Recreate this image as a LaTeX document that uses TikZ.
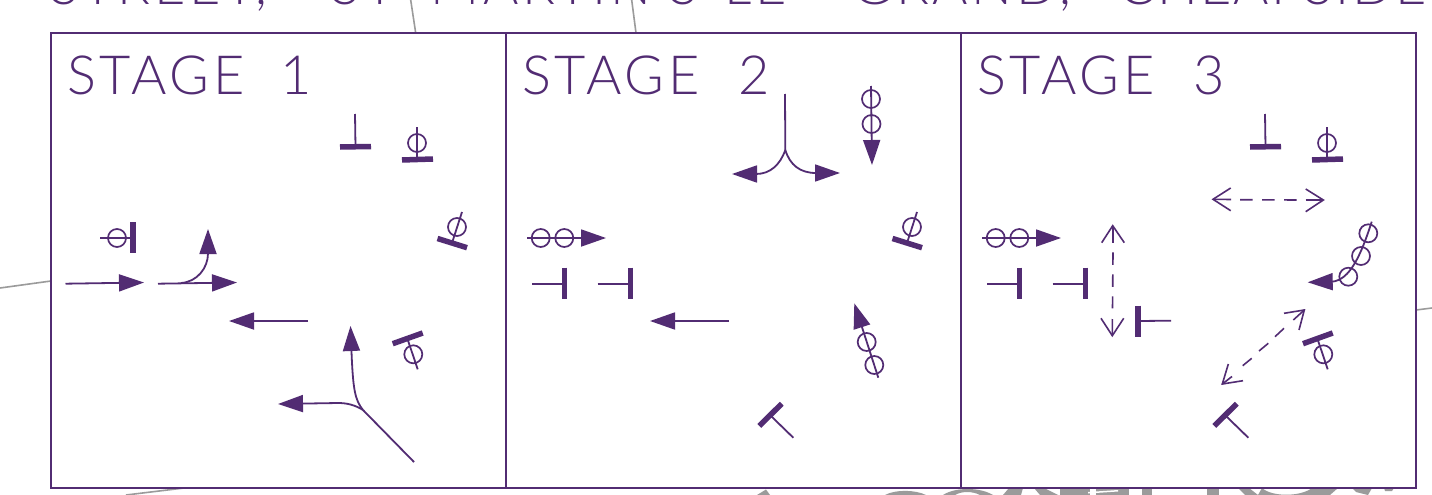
\documentclass[tikz,border=0pt]{standalone}
\usepackage{fontspec}
\setmainfont{Lato Light}
\usetikzlibrary{arrows.meta}
\definecolor{pur}{RGB}{82,44,115}
\definecolor{bggrey}{RGB}{155,155,155}
\tikzset{
  ln/.style={draw=pur,line width=1.8pt},
  bar/.style={draw=pur,line width=5.5pt},
  ring/.style={draw=pur,line width=1.7pt},
  solidtip/.style={-{Triangle[length=25pt,width=17pt,fill=pur]},draw=pur,line width=1.8pt},
  dashline/.style={draw=pur,line width=1.6pt,dash pattern=on 12.5pt off 9.5pt},
  openhead/.style={draw=pur,line width=1.6pt},
  grey/.style={draw=bggrey,line width=1.6pt},
  greyfill/.style={fill=bggrey,draw=none},
  stagelab/.style={text=pur,anchor=base west,inner sep=0pt,font=\fontsize{54}{54}\selectfont},
}
\begin{document}
\begin{tikzpicture}[x=1pt,y=-1pt]
\useasboundingbox (0,0) rectangle (1432,495);
\clip (0,0) rectangle (1432,495);
\fill[white] (0,0) rectangle (1432,495);
% background streets and lettering
\draw[grey] (0,288) -- (51,281);
\draw[grey] (126,495) -- (184,488);
\draw[grey] (410.7,0) -- (415.7,33);
\draw[grey] (631.7,0) -- (636,33);
\draw[grey] (1416,310) -- (1432,308);
\fill[greyfill] (757,495) -- (766,489.5) -- (770,495) -- cycle;
\fill[greyfill] (885,495) .. controls (895,489.5) and (915,489.5) .. (926,495) -- cycle;
\fill[greyfill] (943,495) .. controls (955,487) and (980,487) .. (993,495) -- (980,495) .. controls (972,491) and (962,491) .. (955,495) -- cycle;
\fill[greyfill] (1003,495) -- (1009,488) -- (1023,488) -- (1021,495) -- cycle;
\fill[greyfill] (1034,488) -- (1044,488) -- (1058,495) -- (1040,495) -- cycle;
\fill[greyfill] (1060,488) rectangle (1090,495);
\fill[greyfill] (1096,488) rectangle (1129,495);
\fill[white] (1088,492) -- (1118,490) -- (1118,491.5) -- (1088,493.5) -- cycle;
\fill[greyfill] (1142,488) rectangle (1152,495);
\fill[greyfill] (1207,488) rectangle (1219,495);
\fill[greyfill] (1238,488) -- (1249,488) -- (1258,495) -- (1245,495) -- cycle;
\fill[greyfill] (1262,488) .. controls (1272,497) and (1300,497) .. (1312,488) -- (1338,488) -- (1330,495) -- (1258,495) -- cycle;
\fill[greyfill] (1352,488) -- (1372,488) -- (1368,495) -- (1356,492) -- cycle;
\fill[greyfill] (1384,488) -- (1394,488) -- (1392,491) -- (1385,491) -- cycle;
% frame
\fill[white] (51,33) rectangle (1416,488);
\draw[ln] (51,33) rectangle (1416,488);
\draw[ln] (506,33) -- (506,488);
\draw[ln] (961,33) -- (961,488);
% heading
\node[stagelab] (head) at (50,4.5) {\addfontfeatures{LetterSpace=7}STREET,\hspace{46pt} ST\hspace{16pt} MARTIN'S\hspace{8pt} LE\hspace{47pt} GRAND,\hspace{29pt} {\addfontfeatures{LetterSpace=4}CHEAPSIDE}};
\node[stagelab] (s1) at (67,95) {\addfontfeatures{LetterSpace=7}STAGE\hspace{18pt} 1};
\node[stagelab] (s2) at (522,95) {\addfontfeatures{LetterSpace=7}STAGE\hspace{21pt} 2};
\node[stagelab] (s3) at (977,95) {\addfontfeatures{LetterSpace=7}STAGE\hspace{21pt} 3};
% ---- Stage 1
\draw[bar] (340,147) -- (371,146.5); \draw[ln] (355,114) -- (355.5,147);
\draw[bar] (402,160) -- (433,159); \draw[ln] (417,127) -- (417,159); \draw[ring] (417,143) circle (9pt);
\draw[bar] (437.5,238.5) -- (467,247.7); \draw[ln] (452,243) -- (462,212); \draw[ring] (457,227) circle (9pt);
\draw[bar] (133,222) -- (133,253); \draw[ln] (100,238) -- (133,238); \draw[ring] (117,238) circle (9pt);
\draw[solidtip] (65.5,283.7) -- (144,282.5);
\draw[solidtip] (158,283.7) -- (237,282.5);
\draw[solidtip] (181,283) .. controls (197,282) and (208,268) .. (208,229);
\draw[solidtip] (308,321) -- (229,321);
\draw[ln] (414,462) -- (363,410);
\draw[solidtip] (363,410) .. controls (355,400) and (353,390) .. (350.5,326);
\draw[solidtip] (363,410) .. controls (355,405) and (347,403) .. (338,403) -- (278,404);
\draw[bar] (392.7,343.7) -- (422.7,333); \draw[ln] (407.5,339) -- (417.7,369.3); \draw[ring] (413.3,354.3) circle (9pt);
% ---- Stage 2
\draw[ln] (785,94) -- (785.3,150);
\draw[solidtip] (785.3,150) .. controls (780,165) and (770,174) .. (756,174) -- (732,174);
\draw[solidtip] (785.3,150) .. controls (790,165) and (800,173) .. (816,173) -- (840,173);
\draw[solidtip] (871,86) -- (872,165); \draw[ring] (871,99) circle (9pt); \draw[ring] (871.5,124) circle (9pt);
\draw[bar] (892.5,238.5) -- (922,247.7); \draw[ln] (907,243) -- (917,212); \draw[ring] (912,227) circle (9pt);
\draw[solidtip] (527,238) -- (606,238); \draw[ring] (540.7,238) circle (9pt); \draw[ring] (564.3,238) circle (9pt);
\draw[bar] (564.7,267.7) -- (564.7,298.7); \draw[ln] (532,283.7) -- (564.7,283.7);
\draw[bar] (630.7,267.7) -- (630.7,298.7); \draw[ln] (597.5,283.7) -- (630.7,283.7);
\draw[solidtip] (729,321) -- (650,321);
\draw[solidtip] (878.3,377.7) -- (854.3,303.3); \draw[ring] (866.7,342) circle (9pt); \draw[ring] (874.3,365) circle (9pt);
\draw[bar] (759.3,426) -- (781.7,403.7); \draw[ln] (771.7,416.7) -- (793.3,437.7);
% ---- Stage 3
\draw[bar] (1250,147) -- (1281,146.5); \draw[ln] (1265,114) -- (1265.5,147);
\draw[bar] (1312,160) -- (1343,159); \draw[ln] (1327,127) -- (1327,159); \draw[ring] (1327,143) circle (9pt);
\draw[dashline] (1240,199.7) -- (1297,200);
\draw[openhead] (1230.7,188) -- (1213,199.3) -- (1230.7,210.7);
\draw[openhead] (1213,199.3) -- (1231,199.5);
\draw[openhead] (1305.7,189) -- (1323.3,200) -- (1305.7,211.7);
\draw[openhead] (1305.7,200) -- (1323.3,200);
\draw[solidtip] (982,238) -- (1061,238); \draw[ring] (995.7,238) circle (9pt); \draw[ring] (1019.3,238) circle (9pt);
\draw[bar] (1019.7,267.7) -- (1019.7,298.7); \draw[ln] (987,283.7) -- (1019.7,283.7);
\draw[bar] (1085.7,267.7) -- (1085.7,298.7); \draw[ln] (1052.5,283.7) -- (1085.7,283.7);
\draw[dashline] (1113,252.3) -- (1112.5,308.3);
\draw[openhead] (1101.7,242.7) -- (1112.7,225.7) -- (1124.3,242.7);
\draw[openhead] (1113,225.7) -- (1113,242.7);
\draw[openhead] (1101,318.3) -- (1112.3,335.7) -- (1123.7,318.3);
\draw[openhead] (1112.4,319) -- (1112.3,335.7);
\draw[bar] (1138,305.7) -- (1138,336.7); \draw[ln] (1138,321) -- (1171,320.7);
\draw[solidtip] (1371.7,221.7) .. controls (1361,255) and (1350,280) .. (1332,281.7) -- (1307.7,282.3);
\draw[ring] (1368.3,233.3) circle (9pt); \draw[ring] (1361,256) circle (9pt); \draw[ring] (1348.3,276.7) circle (9pt);
\draw[openhead] (1284,313.3) -- (1304.3,310) -- (1299,330);
\draw[openhead] (1304.3,310) -- (1293.3,320);
\draw[openhead] (1284,328.3) -- (1275,336.7);
\draw[openhead] (1268.3,343.3) -- (1259,351);
\draw[openhead] (1251.7,358.3) -- (1242.7,365.7);
\draw[openhead] (1228.3,364) -- (1222.3,384) -- (1243,380.7);
\draw[openhead] (1222.3,384) -- (1232,376.5);
\draw[bar] (1303,343.7) -- (1332.7,333); \draw[ln] (1317.5,339) -- (1327.7,369.3); \draw[ring] (1323.3,354.3) circle (9pt);
\draw[bar] (1214.3,426) -- (1236.7,403.7); \draw[ln] (1226.7,416.7) -- (1248.3,437.7);
\end{tikzpicture}
\end{document}
